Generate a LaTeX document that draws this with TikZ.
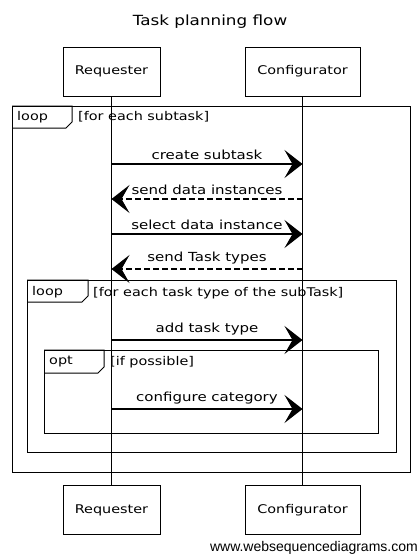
\documentclass[tikz,border=0pt]{standalone}
\usepackage{fontspec}
\setmainfont{DejaVu Sans}[FakeStretch=1.2]
\newfontfamily\urlfont{Liberation Sans}
\usetikzlibrary{arrows.meta}
\begin{document}
\begin{tikzpicture}[x=1pt, y=-1pt,
    actor/.style={draw, line width=0.9pt, minimum width=97pt, minimum height=49pt, font=\fontsize{12}{14}\selectfont},
    msg/.style={line width=1.1pt, -{Stealth[length=18pt, width=28pt, inset=8pt]}},
    reply/.style={msg, dash pattern=on 6pt off 3pt},
    frame/.style={draw, line width=1pt},
    tag/.style={anchor=west, inner sep=0pt, font=\fontsize{12}{14}\selectfont},
    msg label/.style={above, inner sep=4pt, font=\fontsize{12.5}{14}\selectfont}]
    \useasboundingbox (0,0) rectangle (420,557);
    \node[font=\fontsize{14}{16}\selectfont] (title) at (210,22) {Task planning flow};
    % participants, top and bottom
    \foreach \n/\x/\w/\t in {req/111.5/97/Requester, conf/302.5/115/Configurator}{
      \node[actor, minimum width=\w pt] (\n-top) at (\x,71.5) {\t};
      \node[actor, minimum width=\w pt] (\n-bot) at (\x,510) {\t};
      \draw[line width=0.7pt] (\n-top) -- (\n-bot);
    }
    % frames
    \draw[frame] (12,106) rectangle (410,472);
    \draw[frame] (12,106) -- (72,106) -- (72,122) -- (66,128) -- (12,128);
    \node[tag] (loop1) at (17,117) {loop};
    \node[tag] (guard1) at (78,117) {[for each subtask]};
    \draw[frame] (27,280) rectangle (396,452);
    \draw[frame] (27,280) -- (88,280) -- (88,296) -- (82,302) -- (27,302);
    \node[tag] (loop2) at (32,292) {loop};
    \node[tag] (guard2) at (93,293) {[for each task type of the subTask]};
    \draw[frame] (44,350) rectangle (378,433);
    \draw[frame] (44,350) -- (104,350) -- (104,367) -- (98,373) -- (44,373);
    \node[tag] (opt) at (49,362) {opt};
    \node[tag] (guard3) at (110,362) {[if possible]};
    % messages
    \foreach \i/\y in {1/164, 2/199, 3/234, 4/269, 5/340, 6/409}{
      \coordinate (lvl\i) at (0,\y);
      \coordinate (rq\i) at (req-top |- lvl\i);
      \coordinate (cf\i) at (conf-top |- lvl\i);
    }
    \draw[msg] (rq1) -- node[msg label] {create subtask} (cf1);
    \draw[reply] (cf2) -- node[msg label] {send data instances} (rq2);
    \draw[msg] (rq3) -- node[msg label] {select data instance} (cf3);
    \draw[reply] (cf4) -- node[msg label] {send Task types} (rq4);
    \draw[msg] (rq5) -- node[msg label] {add task type} (cf5);
    \draw[msg] (rq6) -- node[msg label] {configure category} (cf6);
    \node[anchor=east, inner sep=0pt, font=\urlfont\fontsize{14}{16}\selectfont] (url) at (418,548) {www.websequencediagrams.com};
\end{tikzpicture}
\end{document}
